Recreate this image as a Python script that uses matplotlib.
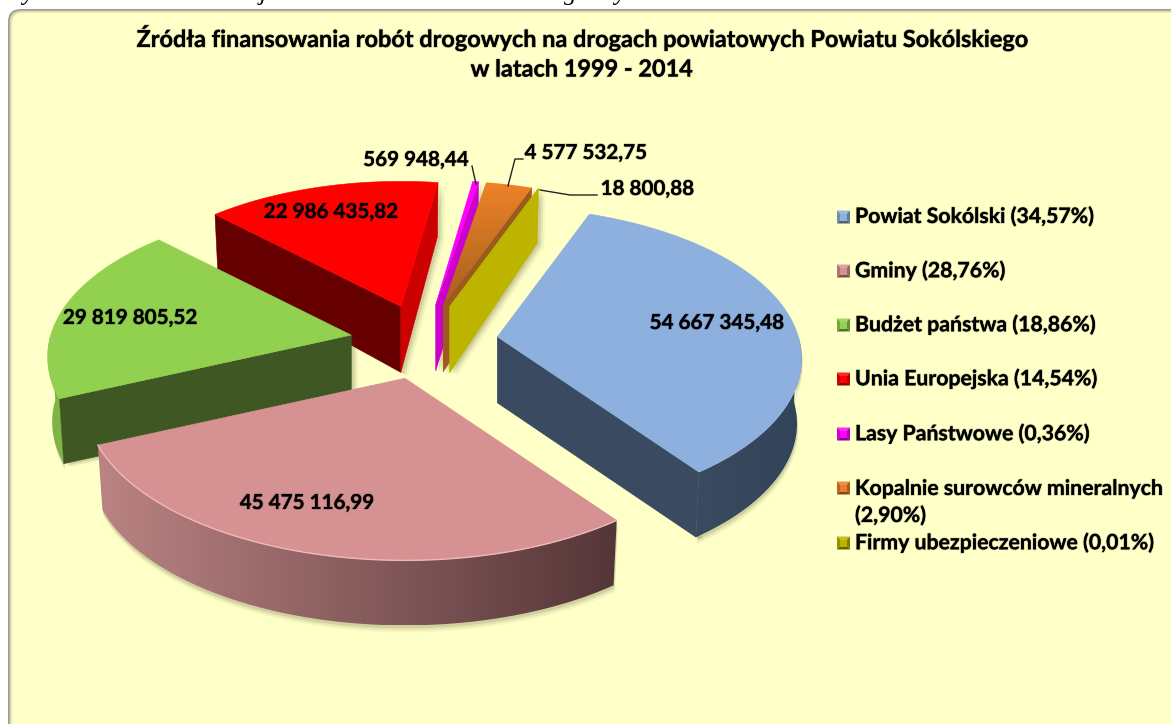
import numpy as np
import matplotlib
matplotlib.use('Agg')
import matplotlib.pyplot as plt
from matplotlib.patches import FancyBboxPatch, Polygon, Rectangle
from matplotlib.colors import to_rgb
from matplotlib.patheffects import withStroke

plt.rcParams['font.family'] = ['Lato', 'DejaVu Sans']

title = 'Źródła finansowania robót drogowych na drogach powiatowych Powiatu Sokólskiego\nw latach 1999 - 2014'
values = [54667345.48, 45475116.99, 29819805.52, 22986435.82, 569948.44, 4577532.75, 18800.88]
legend_labels = ['Powiat Sokólski (34,57%)', 'Gminy (28,76%)', 'Budżet państwa (18,86%)',
                 'Unia Europejska (14,54%)', 'Lasy Państwowe (0,36%)',
                 'Kopalnie surowców mineralnych\n(2,90%)', 'Firmy ubezpieczeniowe (0,01%)']
top_colors = ['#8db0de', '#d69292', '#92d050', '#ff0000', '#ff00ff', '#e87f28', '#bdb400']
start_side = ['#3a4a60', '#8a5a5a', '#3f5722', '#660000', '#cc00cc', '#8f5518', '#bdb400']
end_side = ['#3a4a60', '#8a5a5a', '#3f5722', '#cc0000', '#cc00cc', '#9c5a1c', '#bdb400']
rim_left = ['#3a4a60', '#bb8383', '#7fb545', '#880000', '#cc00cc', '#a05a1c', '#bdb400']
rim_right = ['#33445a', '#553638', '#7fb545', '#880000', '#cc00cc', '#a05a1c', '#bdb400']
legend_y = [217, 271, 325, 379, 434, 488, 543]
label_xy = [(717, 323), (307, 503), (130, 318), (331, 212), (416, 160), (586, 153), (647, 189)]

W, H = 1171, 724
fs = 14.85

# projection of the pie plane, everything in image pixels
t_start = 19.0
R, A, k = 303.0, 149.4, 0.144
cx, cy, ex, ey = 424.0, 342.0, 74.0, 37.5
persp = 0.0012

fig = plt.figure(figsize=(W/100, H/100), dpi=100)
ax = fig.add_axes([0, 0, 1, 1])
ax.set_xlim(0, W)
ax.set_ylim(H, 0)
ax.axis('off')

# cut off line of the page above the chart
for ch, x in zip('yjgy', [28, 263, 570, 620]):
    ax.text(x, 0, ch, family='Liberation Serif', style='italic', fontsize=18, ha='center', va='baseline', color='black')

# panel
panel = [(8, 9, 13, '#9a9a9a'), (9.5, 10.5, 12, '#d4d4a4'), (11, 12, 11, '#efefba'), (12.5, 13, 10, '#ffffc8')]
for i, (x, y, r, col) in enumerate(panel):
    ax.add_patch(FancyBboxPatch((x, y), W+40, H+40, boxstyle=f'round,pad=0,rounding_size={r}', fc=col, ec='none', zorder=1+i*0.1))


def proj(t, s):
    u, v = np.sin(t), np.cos(t)
    return s*R*u/(1+k*v), -s*A*v/(1+k*v)


def lower(dx, dy, v):
    depth = 65 - 11*np.clip(v, 0, 1)
    return dx*0.985, dy+depth


def grad_fill(poly, c0, c1, z, horizontal=True):
    poly = np.asarray(poly)
    x0, x1 = poly[:, 0].min(), poly[:, 0].max()
    y0, y1 = poly[:, 1].min(), poly[:, 1].max()
    c0, c1 = np.array(to_rgb(c0)), np.array(to_rgb(c1))
    f = np.linspace(0, 1, 128)[:, None]
    img = (c0*(1-f) + c1*f)[None, :, :] if horizontal else (c0*(1-f) + c1*f)[:, None, :]
    im = ax.imshow(img, extent=(x0, x1, y1, y0), aspect='auto', zorder=z, interpolation='bilinear')
    patch = Polygon(poly, transform=ax.transData, fc='none', ec='none')
    ax.add_patch(patch)
    im.set_clip_path(patch)


angles = np.cumsum([0]+values)/sum(values)*2*np.pi + np.radians(t_start)
# small angular skew of the 3d view
angles = angles + np.radians(0.3 + 1.2*np.cos(angles - np.radians(50)))
z = 3
for i in [3, 2, 4, 5, 6, 0, 1]:
    t0, t1 = angles[i], angles[i+1]
    m = (t0+t1)/2
    ax0 = cx + ex*np.sin(m)
    ay0 = cy - ey*np.cos(m)
    s = 1 + persp*(ay0-cy)    # slices nearer the viewer come out a bit larger
    tt = np.linspace(t0, t1, 120)
    px, py = proj(tt, s)
    arc = np.column_stack([ax0+px, ay0+py])
    top = np.vstack([[ax0, ay0], arc])
    apex_low = (ax0, ay0+66)

    # rim, only the part that looks at the viewer
    a, b = max(t0, np.pi/2), min(t1, 1.5*np.pi)
    rim = None
    if b > a:
        tr = np.linspace(a, b, 100)
        rx, ry = proj(tr, s)
        lx, ly = lower(rx, ry, np.cos(tr))
        rim = np.vstack([np.column_stack([ax0+rx, ay0+ry]), np.column_stack([ax0+lx, ay0+ly])[::-1]])

    sides = []
    if np.sin(t0) < 0:
        ex_x, ex_y = proj(t0, s)
        lx, ly = lower(ex_x, ex_y, np.cos(t0))
        sides.append(([(ax0, ay0), (ax0+ex_x, ay0+ex_y), (ax0+lx, ay0+ly), apex_low], start_side[i]))
    if np.sin(t1) > 0:
        ex_x, ex_y = proj(t1, s)
        lx, ly = lower(ex_x, ex_y, np.cos(t1))
        sides.append(([(ax0, ay0), (ax0+ex_x, ay0+ex_y), (ax0+lx, ay0+ly), apex_low], end_side[i]))

    # soft shadow
    for off, al in [(7, 0.05), (5, 0.08), (3, 0.12)]:
        for poly, _ in sides:
            ax.add_patch(Polygon(np.array(poly)+[off, off*0.5], fc='#404020', ec='none', alpha=al, zorder=z))
        if rim is not None:
            ax.add_patch(Polygon(rim+[off*0.2, off], fc='#404020', ec='none', alpha=al, zorder=z))
    z += 0.1

    if rim is not None:
        grad_fill(rim, rim_left[i], rim_right[i], z)
        z += 0.01
    for poly, col in sides:
        ax.add_patch(Polygon(poly, fc=col, ec=col, lw=0.4, zorder=z))
        z += 0.01
    if i == 5:
        grad_fill(top, '#ee8228', '#a5601c', z, horizontal=False)
    else:
        ax.add_patch(Polygon(top, fc=top_colors[i], ec=top_colors[i], lw=0.4, zorder=z))
    z += 0.01
    if i == 1:
        ax.plot(arc[:, 0], arc[:, 1], color='#f0b8b8', lw=1, zorder=z)
    z += 0.5

halo = [withStroke(linewidth=1.2, foreground='#00000030')]

ax.text(582, 53, title, ha='center', va='center', fontsize=16.9, fontweight='bold', linespacing=1.5, zorder=20, path_effects=halo)

for v, (x, y) in zip(values, label_xy):
    txt = f'{v:,.2f}'.replace(',', ' ').replace('.', ',')
    ax.text(x, y, txt, ha='center', va='center', fontsize=fs, fontweight='bold', zorder=20, path_effects=halo)

# leader lines
ax.plot([472, 476], [166, 184], color='#222222', lw=1, zorder=19)
ax.plot([523, 515, 508], [159, 159, 186], color='#222222', lw=1, zorder=19)
ax.plot([597, 570, 540], [195, 195, 190], color='#222222', lw=1, zorder=19)

# legend
for i, y in enumerate(legend_y):
    c = np.array(to_rgb(top_colors[i]))
    x0, x1, y0, y1 = 837, 850, y-6.5, y+6.5
    mx, my = (x0+x1)/2, (y0+y1)/2
    ax.add_patch(Polygon([(x0, y0), (x1, y0), (mx, my)], fc=c*0.85+0.15, ec='none', zorder=20))
    ax.add_patch(Polygon([(x0, y0), (x0, y1), (mx, my)], fc=c*0.8, ec='none', zorder=20))
    ax.add_patch(Polygon([(x1, y0), (x1, y1), (mx, my)], fc=c*0.7, ec='none', zorder=20))
    ax.add_patch(Polygon([(x0, y1), (x1, y1), (mx, my)], fc=c*0.55, ec='none', zorder=20))
    ax.add_patch(Rectangle((x0+3, y0+3), 7, 7, fc=c, ec='none', zorder=21))
    if '\n' in legend_labels[i]:
        ax.text(855, y+14.5, legend_labels[i], ha='left', va='center', fontsize=15.3, fontweight='bold', linespacing=1.44, zorder=20, path_effects=halo)
    else:
        ax.text(855, y, legend_labels[i], ha='left', va='center', fontsize=15.3, fontweight='bold', zorder=20, path_effects=halo)

ax.set_xlim(0, W)
ax.set_ylim(H, 0)
fig.savefig('out.png', dpi=100)
